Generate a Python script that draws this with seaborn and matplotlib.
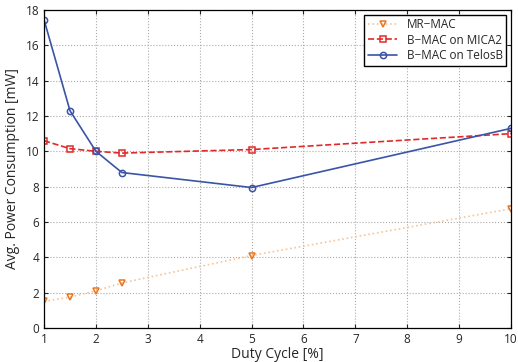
import pandas as pd
import seaborn as sns
import matplotlib.pyplot as plt

duty = [1, 1.5, 2, 2.5, 5, 10]
mrmac = [1.5, 1.75, 2.1, 2.55, 4.1, 6.75]
bmac_mica2 = [10.6, 10.15, 10.0, 9.9, 10.1, 11.0]
bmac_telosb = [17.45, 12.3, 10.0, 8.8, 7.95, 11.3]

sns.set_style('ticks')
plt.rcParams['font.family'] = ['Open Sans', 'DejaVu Sans']

f, ax = plt.subplots(figsize=(5.18, 3.62), dpi=100)
f.subplots_adjust(left=0.085, right=0.9865, top=0.9724, bottom=0.094)

# MR-MAC: pale dotted line, darker hollow triangle markers
sns.lineplot(x=duty, y=mrmac, ax=ax, color='#f7c49a', linestyle=':', lw=1.2,
             marker='v', markersize=5, markerfacecolor='none',
             markeredgecolor='#e8761e', markeredgewidth=1.1, label='MR\u2212MAC')
sns.lineplot(x=duty, y=bmac_mica2, ax=ax, color='#e02a2a', linestyle='--', lw=1.2,
             dashes=(4, 2.5), marker='s', markersize=4, markerfacecolor='none',
             markeredgecolor='#e02a2a', markeredgewidth=1.1, label='B\u2212MAC on MICA2')
sns.lineplot(x=duty, y=bmac_telosb, ax=ax, color='#3a54a8', lw=1.2,
             marker='o', markersize=4.5, markerfacecolor='none',
             markeredgecolor='#3a54a8', markeredgewidth=1.1, label='B\u2212MAC on TelosB')

ax.set_xlim(1, 10)
ax.set_ylim(0, 18)
ax.set_xticks(range(1, 11))
ax.set_yticks(range(0, 19, 2))
ax.grid(True, linestyle=':', color='#aaaaaa', lw=0.8)
for s in ax.spines.values():
    s.set_color('black')
    s.set_linewidth(0.9)
ax.tick_params(direction='in', labelsize=8.5, length=3, top=True, right=True)
ax.set_xlabel('Duty Cycle [%]', fontsize=10, labelpad=1)
ax.set_ylabel('Avg. Power Consumption [mW]', fontsize=10, labelpad=4)

leg = ax.legend(loc='upper right', fontsize=8.5, frameon=True, fancybox=False,
                edgecolor='black', framealpha=1, borderaxespad=0.4,
                handlelength=2.5, labelspacing=0.2, borderpad=0.3)
leg.get_frame().set_linewidth(1.0)

plt.savefig('out.png', dpi=100)
